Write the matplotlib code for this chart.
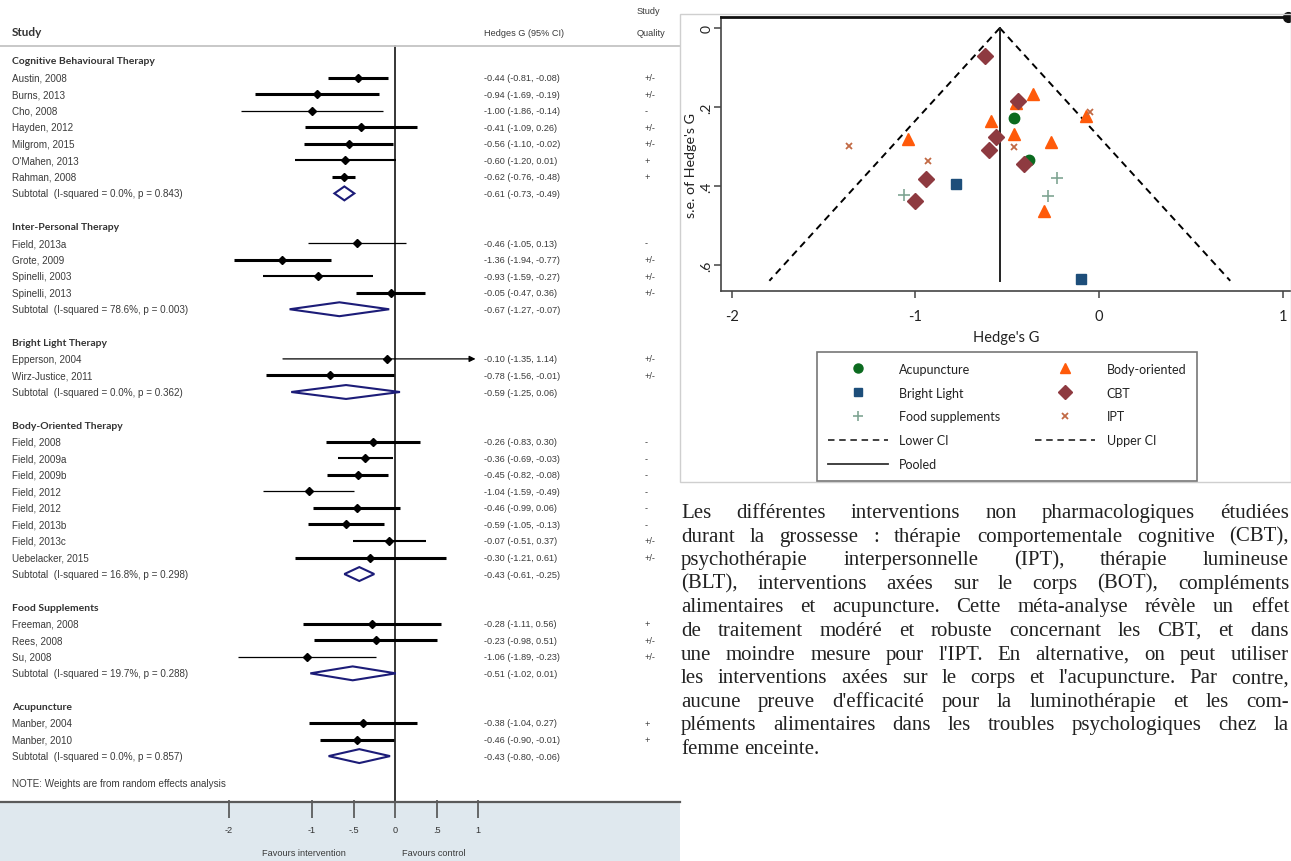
import matplotlib
matplotlib.use("Agg")
import matplotlib.pyplot as plt
from matplotlib.lines import Line2D
from matplotlib.patches import Polygon

# ---------------- forest plot data (Hedges G and 95% CI) ----------------
cbt_studies = ["Austin, 2008", "Burns, 2013", "Cho, 2008", "Hayden, 2012",
               "Milgrom, 2015", "O'Mahen, 2013", "Rahman, 2008"]
cbt_g = [-0.44, -0.94, -1.00, -0.41, -0.56, -0.60, -0.62]
cbt_lo = [-0.81, -1.69, -1.86, -1.09, -1.10, -1.20, -0.76]
cbt_hi = [-0.08, -0.19, -0.14, 0.26, -0.02, 0.01, -0.48]
cbt_se = [0.186, 0.383, 0.439, 0.344, 0.276, 0.309, 0.071]
cbt_quality = ["+/-", "+/-", "-", "+/-", "+/-", "+", "+"]
cbt_subtotal = [-0.61, -0.73, -0.49]
cbt_het = "I-squared = 0.0%, p = 0.843"

ipt_studies = ["Field, 2013a", "Grote, 2009", "Spinelli, 2003", "Spinelli, 2013"]
ipt_g = [-0.46, -1.36, -0.93, -0.05]
ipt_lo = [-1.05, -1.94, -1.59, -0.47]
ipt_hi = [0.13, -0.77, -0.27, 0.36]
ipt_se = [0.301, 0.298, 0.337, 0.212]
ipt_quality = ["-", "+/-", "+/-", "+/-"]
ipt_subtotal = [-0.67, -1.27, -0.07]
ipt_het = "I-squared = 78.6%, p = 0.003"

blt_studies = ["Epperson, 2004", "Wirz-Justice, 2011"]
blt_g = [-0.10, -0.78]
blt_lo = [-1.35, -1.56]
blt_hi = [1.14, -0.01]
blt_se = [0.635, 0.395]
blt_quality = ["+/-", "+/-"]
blt_subtotal = [-0.59, -1.25, 0.06]
blt_het = "I-squared = 0.0%, p = 0.362"

bot_studies = ["Field, 2008", "Field, 2009a", "Field, 2009b", "Field, 2012",
               "Field, 2012", "Field, 2013b", "Field, 2013c", "Uebelacker, 2015"]
bot_g = [-0.26, -0.36, -0.45, -1.04, -0.46, -0.59, -0.07, -0.30]
bot_lo = [-0.83, -0.69, -0.82, -1.59, -0.99, -1.05, -0.51, -1.21]
bot_hi = [0.30, -0.03, -0.08, -0.49, 0.06, -0.13, 0.37, 0.61]
bot_se = [0.288, 0.168, 0.189, 0.281, 0.268, 0.235, 0.224, 0.464]
bot_quality = ["-", "-", "-", "-", "-", "-", "+/-", "+/-"]
bot_subtotal = [-0.43, -0.61, -0.25]
bot_het = "I-squared = 16.8%, p = 0.298"

food_studies = ["Freeman, 2008", "Rees, 2008", "Su, 2008"]
food_g = [-0.28, -0.23, -1.06]
food_lo = [-1.11, -0.98, -1.89]
food_hi = [0.56, 0.51, -0.23]
food_se = [0.426, 0.380, 0.423]
food_quality = ["+", "+/-", "+/-"]
food_subtotal = [-0.51, -1.02, 0.01]
food_het = "I-squared = 19.7%, p = 0.288"

acu_studies = ["Manber, 2004", "Manber, 2010"]
acu_g = [-0.38, -0.46]
acu_lo = [-1.04, -0.90]
acu_hi = [0.27, -0.01]
acu_se = [0.335, 0.227]
acu_quality = ["+", "+"]
acu_subtotal = [-0.43, -0.80, -0.06]
acu_het = "I-squared = 0.0%, p = 0.857"

forest_ticks = [-2, -1, -0.5, 0, 0.5, 1]
forest_tick_labels = ["-2", "-1", "-.5", "0", ".5", "1"]

# funnel plot
pooled_g = -0.54
funnel_se_max = 0.64
z95 = 1.96

para_lines = [
    "Les différentes interventions non pharmacologiques étudiées",
    "durant la grossesse : thérapie comportementale cognitive (CBT),",
    "psychothérapie interpersonnelle (IPT), thérapie lumineuse",
    "(BLT), interventions axées sur le corps (BOT), compléments",
    "alimentaires et acupuncture. Cette méta-analyse révèle un effet",
    "de traitement modéré et robuste concernant les CBT, et dans",
    "une moindre mesure pour l'IPT. En alternative, on peut utiliser",
    "les interventions axées sur le corps et l'acupuncture. Par contre,",
    "aucune preuve d'efficacité pour la luminothérapie et les com-",
    "pléments alimentaires dans les troubles psychologiques chez la",
    "femme enceinte.",
]

# line thickness of each CI bar (reflects study weight in the original)
T, M, S = 2.2, 1.5, 0.9
cbt_lw = [T, T, S, T, T, M, T]
ipt_lw = [S, T, M, T]
blt_lw = [S, T]
bot_lw = [T, M, T, S, T, T, M, T]
food_lw = [T, T, S]
acu_lw = [T, T]

forest = [
    ("Cognitive Behavioural Therapy", cbt_studies, cbt_g, cbt_lo, cbt_hi, cbt_quality, cbt_lw, cbt_subtotal, cbt_het),
    ("Inter-Personal Therapy", ipt_studies, ipt_g, ipt_lo, ipt_hi, ipt_quality, ipt_lw, ipt_subtotal, ipt_het),
    ("Bright Light Therapy", blt_studies, blt_g, blt_lo, blt_hi, blt_quality, blt_lw, blt_subtotal, blt_het),
    ("Body-Oriented Therapy", bot_studies, bot_g, bot_lo, bot_hi, bot_quality, bot_lw, bot_subtotal, bot_het),
    ("Food Supplements", food_studies, food_g, food_lo, food_hi, food_quality, food_lw, food_subtotal, food_het),
    ("Acupuncture", acu_studies, acu_g, acu_lo, acu_hi, acu_quality, acu_lw, acu_subtotal, acu_het),
]

W, H = 1291, 862
fig = plt.figure(figsize=(W / 100, H / 100), dpi=100)
fig.patch.set_facecolor("white")

X0, XS = 395, 83.0      # pixel of G=0 and pixels per unit (forest)
Y0, DY = 62, 16.55      # pixel of first row and row height (forest)


def gx(px):
    return (px - X0) / XS


def ry(px):
    return (px - Y0) / DY


def fy(px):
    return 1 - px / H


sans = "Liberation Sans"
head = "Lato"
txt_c = "#3a3a3a"

ax = fig.add_axes([0, 0, 680 / W, 1])
ax.set_xlim(gx(0), gx(680))
ax.set_ylim(ry(H), ry(0))
ax.axis("off")

LAB, CIX, QX = gx(12), gx(484), gx(645)
ax.text(LAB, ry(33), "Study", family=head, fontweight="bold", fontsize=8.5, va="center", color="#333")
ax.text(CIX, ry(33), "Hedges G (95% CI)", family=sans, fontsize=6.6, va="center", color=txt_c)
ax.text(gx(637), ry(12), "Study", family=sans, fontsize=6.6, va="center", color=txt_c)
ax.text(gx(637), ry(33), "Quality", family=sans, fontsize=6.6, va="center", color=txt_c, clip_on=True)
ax.plot([gx(0), gx(680)], [ry(47), ry(47)], color="#c4c4c4", lw=1.3)
ax.plot([0, 0], [ry(47), ry(803)], color="black", lw=1.1, zorder=1)

r = 0
for name, studies, g, lo, hi, q, lw, sub, het in forest:
    ax.text(LAB, r, name, family=head, fontweight="bold", fontsize=7.5, va="center", color="#333")
    for k in range(len(studies)):
        r += 1
        ax.text(LAB, r, studies[k], family=sans, fontsize=7.1, va="center", color=txt_c)
        if hi[k] > forest_ticks[-1]:
            ax.annotate("", xy=(0.97, r), xytext=(lo[k], r),
                        arrowprops=dict(arrowstyle="-|>", lw=lw[k], color="black",
                                        shrinkA=0, shrinkB=0, mutation_scale=9))
        else:
            ax.plot([lo[k], hi[k]], [r, r], color="black", lw=lw[k], solid_capstyle="butt", zorder=2)
        ax.plot(g[k], r, "D", color="black", ms=4.2, zorder=3)
        ax.text(CIX, r, f"{g[k]:.2f} ({lo[k]:.2f}, {hi[k]:.2f})", family=sans, fontsize=6.6,
                va="center", color=txt_c)
        ax.text(QX, r, q[k], family=sans, fontsize=6.6, va="center", color=txt_c)
    r += 1
    ax.text(LAB, r, "Subtotal  (" + het + ")", family=sans, fontsize=7.1, va="center", color=txt_c)
    ax.add_patch(Polygon([(sub[1], r), (sub[0], r - 0.42), (sub[2], r), (sub[0], r + 0.42)],
                         closed=True, fill=False, ec="#1c1c78", lw=1.5, zorder=3))
    ax.text(CIX, r, f"{sub[0]:.2f} ({sub[1]:.2f}, {sub[2]:.2f})", family=sans, fontsize=6.6,
            va="center", color=txt_c)
    r += 2

ax.text(LAB, r - 0.4, "NOTE: Weights are from random effects analysis", family=sans, fontsize=7.1,
        va="center", color=txt_c)

# bottom band with the G axis
ax.axhspan(ry(803), ry(H), color="#dfe8ee", zorder=0)
axb = fig.add_axes([0, fy(819), 680 / W, 16 / H])
axb.set_xlim(ax.get_xlim())
axb.patch.set_alpha(0)
for s in ["left", "right", "bottom"]:
    axb.spines[s].set_visible(False)
axb.spines["top"].set_color("#5a5a5a")
axb.spines["top"].set_linewidth(1.6)
axb.set_yticks([])
axb.set_xticks(forest_ticks)
axb.set_xticklabels(forest_tick_labels, family=sans, fontsize=6.6, color="#333")
axb.tick_params(axis="x", direction="in", length=13, width=1.1, color="#444", pad=5)
ax.text(-1.1, ry(854), "Favours intervention", family=sans, fontsize=6.6, ha="center", va="center", color=txt_c)
ax.text(0.47, ry(854), "Favours control", family=sans, fontsize=6.6, ha="center", va="center", color=txt_c)

# ---------------- funnel plot ----------------
PX0, PXS = 1099, 183.7
PY0, PYS = 29, 395
axp = fig.add_axes([721 / W, fy(292), (W - 721) / W, (292 - 18) / H])
axp.set_xlim((721 - PX0) / PXS, (W - PX0) / PXS)
axp.set_ylim((292 - PY0) / PYS, (18 - PY0) / PYS)

groups = [
    ("Acupuncture", acu_g, acu_se, dict(marker="o", color="#0b6a1f", ms=7.5), 6.5),
    ("Body-oriented", bot_g, bot_se, dict(marker="^", color="#ff5a0a", ms=9), 7.5),
    ("Bright Light", blt_g, blt_se, dict(marker="s", color="#1d4e7a", ms=7.5), 6.2),
    ("CBT", cbt_g, cbt_se, dict(marker="D", color="#8e3a40", ms=8), 7.5),
    ("Food supplements", food_g, food_se, dict(marker="+", color="#80a594", ms=8, mew=1.2), 6.5),
    ("IPT", ipt_g, ipt_se, dict(marker="x", color="#c26a45", ms=5, mew=1.3), 4.5),
]
handles = {}
for name, g, se, st, leg_ms in groups:
    axp.plot(g, se, ls="none", **st, zorder=3)
    hst = dict(st)
    hst["ms"] = leg_ms
    handles[name] = Line2D([], [], ls="none", **hst)

dash = (0, (3.6, 2.6))
axp.plot([pooled_g, pooled_g - z95 * funnel_se_max], [0, funnel_se_max], color="black", lw=1.4, ls=dash)
axp.plot([pooled_g, pooled_g + z95 * funnel_se_max], [0, funnel_se_max], color="black", lw=1.4, ls=dash)
axp.plot([pooled_g, pooled_g], [0, funnel_se_max], color="#222", lw=1.4)
handles["Lower CI"] = Line2D([], [], color="#333", lw=1.3, ls=dash)
handles["Upper CI"] = Line2D([], [], color="#333", lw=1.3, ls=dash)
handles["Pooled"] = Line2D([], [], color="#333", lw=1.3)

axp.spines["right"].set_visible(False)
axp.spines["top"].set_color("#111")
axp.spines["top"].set_linewidth(2.0)
for s in ["left", "bottom"]:
    axp.spines[s].set_color("#444")
    axp.spines[s].set_linewidth(1.2)
axp.plot([0.995], [1], "o", color="#111", ms=7, transform=axp.transAxes, clip_on=False)

axp.set_xticks([-2, -1, 0, 1])
axp.set_xticklabels(["-2", "-1", "0", "1"])
axp.set_yticks([0, 0.2, 0.4, 0.6])
axp.set_yticklabels(["0", ".2", ".4", ".6"], rotation=90, va="center")
axp.tick_params(length=5, width=1.1, color="#444", labelsize=10.5, labelcolor="#222")
axp.tick_params(axis="x", pad=8)
axp.tick_params(axis="y", pad=1, labelsize=10)
for t in axp.get_xticklabels() + axp.get_yticklabels():
    t.set_family(head)
axp.set_xlabel("Hedge's G", family=head, fontsize=10.5, color="#222", labelpad=5)
axp.set_ylabel("s.e. of Hedge's G", family=head, fontsize=10.3, color="#222")
axp.yaxis.set_label_coords((697 - 721) / (W - 721), (292 - 165) / (292 - 18))

order = ["Acupuncture", "Bright Light", "Food supplements", "Lower CI", "Pooled",
         "Body-oriented", "CBT", "IPT", "Upper CI"]
leg = fig.legend([handles[k] for k in order], order, ncol=2, loc="upper left",
                 bbox_to_anchor=(817 / W, fy(353), 380 / W, 0), mode="expand",
                 borderaxespad=0, fancybox=False, edgecolor="#777", framealpha=1,
                 prop=dict(family=head, size=9), handlelength=4.8, handletextpad=0.9,
                 labelspacing=0.95, borderpad=0.85)
leg.get_frame().set_linewidth(1.2)
for t in leg.get_texts():
    t.set_color("#222")

# panel border of the funnel graph
fig.add_artist(plt.Rectangle((680 / W, fy(483)), (W - 680) / W, (483 - 15) / H, transform=fig.transFigure,
                             fill=False, ec="#cfcfcf", lw=1.0))

# ---------------- justified paragraph ----------------
fig.canvas.draw()
rend = fig.canvas.get_renderer()
serif = "Liberation Serif"
x_left, x_right = 681, 1289


def word_widths(line, size):
    items = [fig.text(0, 0, w, family=serif, fontsize=size) for w in line.split(" ")]
    out = [t.get_window_extent(rend).width for t in items]
    for t in items:
        t.remove()
    return out


trial = 14.0
natural = [sum(word_widths(l, trial)) + (len(l.split(" ")) - 1) * trial * 100 / 72 * 0.25
           for l in para_lines[:-1]]
fs = min(15.0, trial * 604 / max(natural))

for i, line in enumerate(para_lines):
    y = fy(518 + i * 23.6)
    words = line.split(" ")
    items = [fig.text(0, y, w, family=serif, fontsize=fs, color="#222") for w in words]
    widths = [t.get_window_extent(rend).width for t in items]
    if i == len(para_lines) - 1:
        gap = fs * 100 / 72 * 0.25
    else:
        gap = (x_right - x_left - sum(widths)) / (len(words) - 1)
    x = x_left
    for t, w in zip(items, widths):
        t.set_x(x / W)
        x += w + gap

fig.savefig("out.png", dpi=100)
